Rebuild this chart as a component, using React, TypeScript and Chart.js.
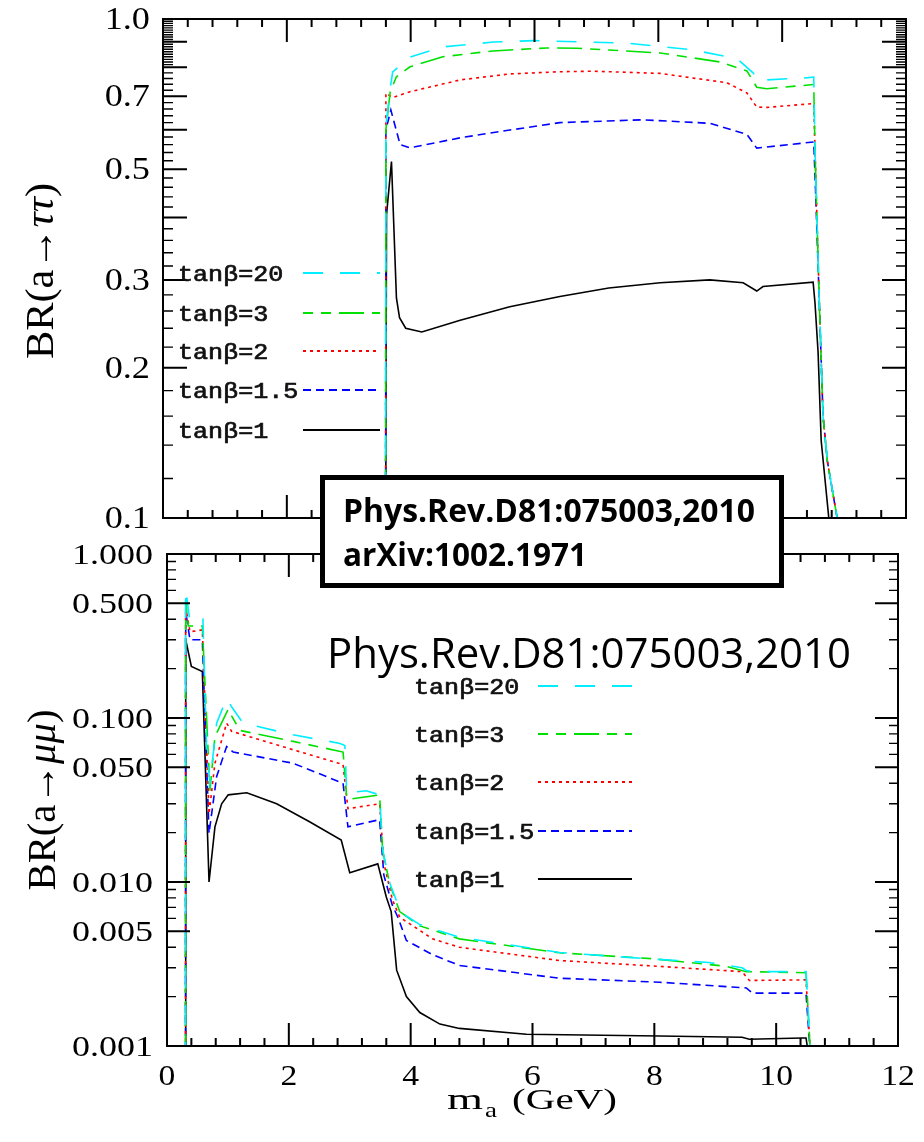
import React, { useEffect, useRef } from "react";
import { Chart, registerables } from "chart.js";

Chart.register(...registerables);

const W = 924;
const H = 1142;

// ---------- Series labels / colours ----------
const seriesLabels = ["tanβ=20", "tanβ=3", "tanβ=2", "tanβ=1.5", "tanβ=1"];
const seriesColors = ["#00eeff", "#00e000", "#ff0000", "#0000ff", "#000000"];
const seriesDashes: number[][] = [[20, 17], [25, 8, 10, 8, 10, 8], [3, 4], [8, 5], []];
const seriesDashOffset = [0, 33, 0, 0, 0];

// ---------- Top panel: BR(a -> tau tau) ----------
const tauX_20 = [3.595, 3.6, 3.67, 3.71, 3.99, 4.52, 5.33, 5.98, 7.49, 8.56, 9.27, 9.53, 9.61, 9.75, 10.42, 10.51, 10.53, 10.6, 10.66, 10.73, 10.9];
const tauY_20 = [0.08, 0.61, 0.727, 0.783, 0.839, 0.879, 0.899, 0.905, 0.895, 0.867, 0.833, 0.78, 0.751, 0.755, 0.763, 0.765, 0.55, 0.27, 0.16, 0.13, 0.098];
const tauX_3 = [3.595, 3.6, 3.67, 3.77, 3.99, 4.52, 5.33, 6.2, 6.69, 8.03, 9.0, 9.43, 9.59, 9.75, 10.51, 10.53, 10.6, 10.66, 10.73, 10.9];
const tauY_3 = [0.08, 0.6, 0.715, 0.766, 0.802, 0.84, 0.863, 0.875, 0.874, 0.855, 0.82, 0.787, 0.73, 0.725, 0.739, 0.55, 0.27, 0.16, 0.13, 0.098];
const tauX_2 = [3.595, 3.6, 3.71, 3.99, 4.8, 5.6, 6.41, 6.94, 8.03, 9.11, 9.43, 9.59, 9.75, 10.51, 10.53, 10.6, 10.66, 10.73, 10.9];
const tauY_2 = [0.08, 0.71, 0.696, 0.715, 0.755, 0.776, 0.784, 0.786, 0.778, 0.745, 0.711, 0.666, 0.665, 0.677, 0.55, 0.27, 0.16, 0.13, 0.098];
const tauX_15 = [3.595, 3.6, 3.68, 3.83, 3.99, 4.8, 5.6, 6.41, 7.75, 8.83, 9.43, 9.59, 9.75, 10.51, 10.54, 10.6, 10.66, 10.73, 10.9];
const tauY_15 = [0.08, 0.6, 0.657, 0.56, 0.552, 0.578, 0.599, 0.62, 0.628, 0.618, 0.587, 0.551, 0.554, 0.567, 0.45, 0.27, 0.16, 0.13, 0.098];
const tauX_1 = [3.595, 3.61, 3.69, 3.77, 3.82, 3.92, 4.18, 4.8, 5.6, 6.41, 7.2, 8.03, 8.83, 9.37, 9.59, 9.69, 10.5, 10.53, 10.58, 10.63, 10.76];
const tauY_1 = [0.08, 0.405, 0.518, 0.276, 0.252, 0.24, 0.236, 0.249, 0.265, 0.278, 0.289, 0.296, 0.3, 0.296, 0.285, 0.291, 0.297, 0.27, 0.215, 0.143, 0.098];

// ---------- Bottom panel: BR(a -> mu mu) ----------
const muX_20 = [0.305, 0.307, 0.377, 0.59, 0.65, 0.705, 0.815, 0.979, 1.06, 1.25, 2.07, 2.84, 2.92, 2.95, 3.27, 3.49, 3.54, 3.66, 3.82, 3.93, 4.15, 4.8, 6.44, 7.8, 8.9, 9.44, 9.51, 9.61, 10.49, 10.57];
const muY_20 = [0.0008, 0.61, 0.387, 0.4, 0.064, 0.04, 0.093, 0.132, 0.117, 0.093, 0.079, 0.07, 0.068, 0.035, 0.036, 0.034, 0.0157, 0.0098, 0.0068, 0.0062, 0.0055, 0.0046, 0.00372, 0.00342, 0.00323, 0.003, 0.00289, 0.00284, 0.00284, 0.0008];
const muX_3 = [0.305, 0.307, 0.35, 0.58, 0.705, 0.787, 1.005, 1.06, 1.197, 2.07, 2.89, 2.95, 3.0, 3.49, 3.54, 3.66, 3.82, 4.15, 4.8, 6.44, 8.0, 9.18, 9.51, 10.49, 10.57];
const muY_3 = [0.0008, 0.525, 0.364, 0.364, 0.036, 0.077, 0.113, 0.103, 0.084, 0.072, 0.062, 0.033, 0.032, 0.034, 0.0155, 0.0096, 0.0066, 0.0054, 0.0045, 0.0037, 0.0034, 0.00306, 0.00284, 0.0028, 0.0008];
const muX_2 = [0.305, 0.307, 0.377, 0.58, 0.69, 0.787, 0.979, 1.06, 2.07, 2.89, 2.97, 3.49, 3.56, 3.7, 3.82, 4.36, 4.8, 6.44, 8.08, 9.44, 9.56, 10.49, 10.57];
const muY_2 = [0.0008, 0.477, 0.336, 0.344, 0.026, 0.053, 0.093, 0.083, 0.064, 0.052, 0.028, 0.03, 0.013, 0.0078, 0.0061, 0.0045, 0.004, 0.00332, 0.00306, 0.00284, 0.00251, 0.00253, 0.0008];
const muX_15 = [0.305, 0.307, 0.377, 0.58, 0.69, 0.815, 0.979, 1.087, 2.07, 2.89, 2.97, 3.49, 3.56, 3.7, 3.79, 3.93, 4.36, 4.8, 6.44, 8.08, 9.51, 9.61, 10.49, 10.57];
const muY_15 = [0.0008, 0.445, 0.3, 0.3, 0.0198, 0.044, 0.067, 0.062, 0.053, 0.04, 0.0217, 0.024, 0.011, 0.0072, 0.0061, 0.0044, 0.0036, 0.0031, 0.00259, 0.00245, 0.00226, 0.0021, 0.0021, 0.0008];
const muX_1 = [0.305, 0.307, 0.4, 0.58, 0.69, 0.787, 0.897, 1.005, 1.31, 1.8, 2.34, 2.86, 3.0, 3.46, 3.6, 3.68, 3.77, 3.93, 4.15, 4.48, 4.8, 5.9, 8.08, 9.44, 9.56, 10.43, 10.49, 10.55];
const muY_1 = [0.0008, 0.3, 0.206, 0.192, 0.01, 0.0217, 0.03, 0.034, 0.035, 0.03, 0.0233, 0.018, 0.0114, 0.0129, 0.0081, 0.0066, 0.0029, 0.002, 0.0016, 0.00136, 0.00128, 0.00118, 0.00115, 0.00113, 0.0011, 0.00112, 0.00112, 0.0008];

// ---------- Axes / tick labels ----------
const xMin = 0;
const xMax = 12;
const xTickValues = [0, 2, 4, 6, 8, 10, 12];
const xTickLabels = ["0", "2", "4", "6", "8", "10", "12"];
const xMinorStep = 0.4;

const tauYMin = 0.1;
const tauYMax = 1.0;
const tauTickValues = [1.0, 0.7, 0.5, 0.3, 0.2, 0.1];
const tauTickLabels = ["1.0", "0.7", "0.5", "0.3", "0.2", "0.1"];

const muYMin = 0.001;
const muYMax = 1.0;
const muTickValues = [1, 0.5, 0.1, 0.05, 0.01, 0.005, 0.001];
const muTickLabels = ["1.000", "0.500", "0.100", "0.050", "0.010", "0.005", "0.001"];

const annotationBold = ["Phys.Rev.D81:075003,2010", "arXiv:1002.1971"];
const annotationBig = "Phys.Rev.D81:075003,2010";

const SERIF = '"Liberation Serif", "DejaVu Serif", serif';
const MONO = '"Liberation Mono", "DejaVu Sans Mono", monospace';
const SANS = '"Open Sans", "Noto Sans", sans-serif';

// ---------- helpers ----------
function pts(xs: number[], ys: number[]) {
  return xs.map((x, i) => ({ x, y: ys[i] }));
}

function makeDatasets(xsList: number[][], ysList: number[][]) {
  return xsList.map((xs, i) => ({
    label: seriesLabels[i],
    data: pts(xs, ysList[i]),
    borderColor: seriesColors[i],
    backgroundColor: seriesColors[i],
    borderDash: seriesDashes[i],
    borderDashOffset: seriesDashOffset[i],
    borderWidth: 1.6,
    pointRadius: 0,
    showLine: true,
    fill: false,
    tension: 0,
    clip: 0,
  }));
}

function textFit(
  ctx: CanvasRenderingContext2D,
  text: string,
  x: number,
  y: number,
  font: string,
  opts: { sx?: number; width?: number; align?: CanvasTextAlign; baseline?: CanvasTextBaseline; color?: string; stroke?: number }
) {
  ctx.save();
  ctx.font = font;
  const w = ctx.measureText(text).width;
  const sx = opts.width ? opts.width / w : opts.sx ?? 1;
  ctx.translate(x, y);
  ctx.scale(sx, 1);
  ctx.textAlign = opts.align ?? "left";
  ctx.textBaseline = opts.baseline ?? "alphabetic";
  ctx.fillStyle = opts.color ?? "#000";
  ctx.fillText(text, 0, 0);
  if (opts.stroke) {
    ctx.strokeStyle = opts.color ?? "#000";
    ctx.lineWidth = opts.stroke;
    ctx.strokeText(text, 0, 0);
  }
  ctx.restore();
}

type Seg = { t: string; italic?: boolean };

function rotatedTitle(ctx: CanvasRenderingContext2D, segs: Seg[], cx: number, cy: number, size: number, length: number) {
  ctx.save();
  const fonts = segs.map((s) => `${s.italic ? "italic " : ""}${size}px ${SERIF}`);
  const widths = segs.map((s, i) => {
    ctx.font = fonts[i];
    return ctx.measureText(s.t).width;
  });
  const total = widths.reduce((a, b) => a + b, 0);
  ctx.translate(cx, cy);
  ctx.rotate(-Math.PI / 2);
  ctx.scale(length / total, 1);
  ctx.textBaseline = "middle";
  ctx.textAlign = "left";
  ctx.fillStyle = "#000";
  let pos = -total / 2;
  segs.forEach((s, i) => {
    ctx.font = fonts[i];
    ctx.fillText(s.t, pos, 0);
    pos += widths[i];
  });
  ctx.restore();
}

function drawFrameAndXTicks(chart: any) {
  const { ctx, chartArea: a, scales } = chart;
  const xs = scales.x;
  ctx.save();
  ctx.strokeStyle = "#000";
  ctx.lineWidth = 2;
  ctx.strokeRect(a.left, a.top, a.right - a.left, a.bottom - a.top);
  ctx.beginPath();
  const n = Math.round((xMax - xMin) / xMinorStep);
  for (let k = 1; k < n; k++) {
    const v = xMin + k * xMinorStep;
    const major = k % 5 === 0;
    const len = major ? 23 : 8;
    const p = xs.getPixelForValue(v);
    ctx.moveTo(p, a.bottom);
    ctx.lineTo(p, a.bottom - len);
    ctx.moveTo(p, a.top);
    ctx.lineTo(p, a.top + len);
  }
  ctx.stroke();
  ctx.restore();
}

function drawYTicks(chart: any, ticks: { v: number; long: boolean }[], longLen: number, shortLen: number) {
  const { ctx, chartArea: a, scales } = chart;
  const ys = scales.y;
  ctx.save();
  ctx.strokeStyle = "#000";
  for (const long of [true, false]) {
    ctx.lineWidth = long ? 2 : 1.4;
    ctx.beginPath();
    for (const t of ticks) {
      if (t.long !== long) continue;
      const p = ys.getPixelForValue(t.v);
      const len = t.long ? longLen : shortLen;
      ctx.moveTo(a.left, p);
      ctx.lineTo(a.left + len, p);
      ctx.moveTo(a.right, p);
      ctx.lineTo(a.right - len, p);
    }
    ctx.stroke();
  }
  ctx.restore();
}

function drawLegend(chart: any, textX: number, rows: number[], lineX1: number, lineX2: number) {
  const { ctx } = chart;
  chart.data.datasets.forEach((ds: any, i: number) => {
    const y = rows[i];
    textFit(ctx, ds.label, textX, y + 1, `22px ${MONO}`, { sx: 1.14, baseline: "middle", color: "#111", stroke: 0.7 });
    ctx.save();
    ctx.strokeStyle = ds.borderColor;
    ctx.lineWidth = 1.8;
    ctx.setLineDash(ds.borderDash || []);
    ctx.lineDashOffset = ds.borderDashOffset || 0;
    ctx.beginPath();
    ctx.moveTo(lineX1, y - 1);
    ctx.lineTo(lineX2, y - 1);
    ctx.stroke();
    ctx.restore();
  });
}

// ---------- tick sets ----------
function tauYTickSet() {
  const out: { v: number; long: boolean }[] = [];
  for (let k = 2; k <= 9; k++) out.push({ v: k / 10, long: true });
  for (let k = 11; k < 80; k++) {
    if (k % 2 === 0 && k % 10 !== 0) out.push({ v: k / 100, long: false });
  }
  for (let k = 81; k < 100; k++) {
    if (k % 10 !== 0) out.push({ v: k / 100, long: false });
  }
  return out;
}

function muYTickSet() {
  const out: { v: number; long: boolean }[] = [];
  for (let e = -3; e <= -1; e++) {
    const d = Math.pow(10, e);
    for (let k = 1; k <= 9; k++) {
      out.push({ v: k * d, long: k === 1 || k === 5 });
    }
  }
  return out;
}

// ---------- plugins ----------
const tauPlugin = {
  id: "tauDecor",
  afterDraw(chart: any) {
    const { ctx, scales } = chart;
    drawFrameAndXTicks(chart);
    drawYTicks(chart, tauYTickSet(), 24, 10);
    tauTickValues.forEach((v, i) => {
      const p = scales.y.getPixelForValue(v);
      textFit(ctx, tauTickLabels[i], 150, p + 2, `31px ${SERIF}`, { sx: 1.17, align: "right", baseline: "middle" });
    });
    rotatedTitle(ctx, [{ t: "BR(a→" }, { t: "ττ", italic: true }, { t: ")" }], 42, 271, 40, 176);
    drawLegend(chart, 178, [274, 314, 352, 391, 431], 303, 380);
  },
};

const muPlugin = {
  id: "muDecor",
  afterDraw(chart: any) {
    const { ctx, scales } = chart;
    drawFrameAndXTicks(chart);
    drawYTicks(chart, muYTickSet(), 23, 9);
    muTickValues.forEach((v, i) => {
      const p = scales.y.getPixelForValue(v);
      textFit(ctx, muTickLabels[i], 153, p + 2, `30px ${SERIF}`, { sx: 1.2, align: "right", baseline: "middle" });
    });
    xTickValues.forEach((v, i) => {
      const p = scales.x.getPixelForValue(v);
      textFit(ctx, xTickLabels[i], p, 1077, `30px ${SERIF}`, { sx: 1.12, align: "center", baseline: "middle" });
    });
    rotatedTitle(ctx, [{ t: "BR(a→" }, { t: "μμ", italic: true }, { t: ")" }], 44, 800, 40, 181);
    // x title: m_a (GeV)
    textFit(ctx, "m", 447, 1109, `30px ${SERIF}`, { width: 36 });
    textFit(ctx, "a", 485, 1117, `21px ${SERIF}`, { width: 12 });
    textFit(ctx, "(GeV)", 512, 1109, `30px ${SERIF}`, { width: 105 });
    drawLegend(chart, 414, [687, 735, 783, 832, 880], 538, 632);

    // reference annotations
    ctx.save();
    ctx.fillStyle = "#fff";
    ctx.fillRect(320, 475, 464, 113);
    ctx.strokeStyle = "#000";
    ctx.lineWidth = 5;
    ctx.strokeRect(322.5, 477.5, 459, 108);
    ctx.restore();
    textFit(ctx, annotationBold[0], 343, 522, `bold 33px ${SANS}`, { width: 412 });
    textFit(ctx, annotationBold[1], 343, 566, `bold 33px ${SANS}`, { width: 244 });
    textFit(ctx, annotationBig, 327, 668, `42px ${SANS}`, { width: 524 });
  },
};

function makeConfig(datasets: any[], yMin: number, yMax: number, padding: any, plugin: any) {
  return {
    type: "scatter" as const,
    data: { datasets },
    options: {
      animation: false as const,
      responsive: false,
      devicePixelRatio: 1,
      layout: { padding },
      scales: {
        x: { type: "linear" as const, min: xMin, max: xMax, display: false },
        y: { type: "logarithmic" as const, min: yMin, max: yMax, display: false },
      },
      plugins: { legend: { display: false }, tooltip: { enabled: false }, title: { display: false } },
      events: [] as any[],
    },
    plugins: [plugin],
  };
}

export default function App() {
  const topRef = useRef<HTMLCanvasElement>(null);
  const botRef = useRef<HTMLCanvasElement>(null);

  useEffect(() => {
    const top = new Chart(
      topRef.current as HTMLCanvasElement,
      makeConfig(
        makeDatasets([tauX_20, tauX_3, tauX_2, tauX_15, tauX_1], [tauY_20, tauY_3, tauY_2, tauY_15, tauY_1]),
        tauYMin,
        tauYMax,
        { left: 163, top: 19, right: W - 906, bottom: H - 518 },
        tauPlugin
      ) as any
    );
    const bot = new Chart(
      botRef.current as HTMLCanvasElement,
      makeConfig(
        makeDatasets([muX_20, muX_3, muX_2, muX_15, muX_1], [muY_20, muY_3, muY_2, muY_15, muY_1]),
        muYMin,
        muYMax,
        { left: 167, top: 554, right: W - 898, bottom: H - 1046 },
        muPlugin
      ) as any
    );
    return () => {
      top.destroy();
      bot.destroy();
    };
  }, []);

  return (
    <div style={{ position: "absolute", left: 0, top: 0, width: W, height: H, background: "#fff", overflow: "hidden" }}>
      <canvas ref={topRef} width={W} height={H} style={{ position: "absolute", left: 0, top: 0, zIndex: 1 }} />
      <canvas ref={botRef} width={W} height={H} style={{ position: "absolute", left: 0, top: 0, zIndex: 2 }} />
    </div>
  );
}
